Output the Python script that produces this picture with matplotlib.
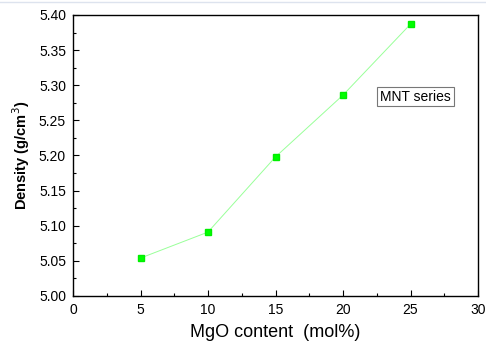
import matplotlib
matplotlib.use('Agg')
import matplotlib.pyplot as plt
from matplotlib.ticker import MultipleLocator

plt.rcParams['font.family'] = ['Liberation Sans', 'DejaVu Sans']

# data
mgo = [5, 10, 15, 20, 25]
density = [5.054, 5.091, 5.198, 5.286, 5.387]

fig = plt.figure(figsize=(4.86, 3.44), dpi=100)
ax = fig.add_axes([73 / 486, 1 - 296 / 344, 405 / 486, 281 / 344])

ax.plot(mgo, density, color='#99ff99', lw=0.7, zorder=2)
ax.plot(mgo, density, ls='none', marker='s', ms=4.5, mfc='#00ff00', mec='#00ee00', zorder=3)

ax.set_xlim(0, 30)
ax.set_ylim(5.00, 5.40)
ax.xaxis.set_major_locator(MultipleLocator(5))
ax.xaxis.set_minor_locator(MultipleLocator(2.5))
ax.yaxis.set_major_locator(MultipleLocator(0.05))
ax.yaxis.set_minor_locator(MultipleLocator(0.025))
ax.yaxis.set_major_formatter(matplotlib.ticker.FormatStrFormatter('%.2f'))
ax.tick_params(which='both', direction='in', top=False, right=False, labelsize=10, width=0.8)
ax.tick_params(which='major', length=4.5, pad=5)
ax.tick_params(which='minor', length=2.5)
for s in ax.spines.values():
    s.set_linewidth(1.0)

ax.set_xlabel('MgO content  (mol%)', fontsize=13, labelpad=5)
ax.set_ylabel('Density (g/cm$^3$)', fontsize=10.5, fontweight='bold', labelpad=5)

ax.text(22.75, 5.274, 'MNT series', fontsize=10, ha='left', va='bottom',
        bbox=dict(boxstyle='square,pad=0.2', fc='white', ec='#777777', lw=0.8))

fig.add_artist(plt.Line2D([0, 1], [1 - 2 / 344, 1 - 2 / 344], color='#dde3ee', lw=1))

fig.savefig('out.png', dpi=100)
